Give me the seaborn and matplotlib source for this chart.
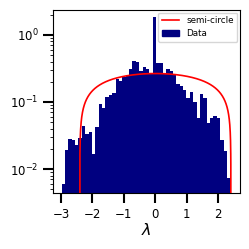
import numpy as np
import pandas as pd
import seaborn as sns
import matplotlib.pyplot as plt
from matplotlib.patches import Patch

# histogram of the eigenvalues (density), 50 bins
lam_min, lam_max = -2.98, 2.38
n_bins = 50
density = [
    0.0059, 0.0192, 0.0277, 0.0271, 0.0228, 0.0293, 0.0443, 0.0330, 0.0353, 0.0170,
    0.0428, 0.0933, 0.0800, 0.119, 0.128, 0.135, 0.223, 0.206, 0.232, 0.242,
    0.311, 0.409, 0.391, 0.285, 0.327, 0.309, 0.260, 1.84, 0.386, 0.376,
    0.266, 0.309, 0.290, 0.264, 0.184, 0.173, 0.151, 0.114, 0.143, 0.101,
    0.0571, 0.132, 0.114, 0.0491, 0.0571, 0.0618, 0.0571, 0.0271, 0.0189, 0.0073,
]

# radius of the semi-circle law
R = 2.4

edges = np.linspace(lam_min, lam_max, n_bins + 1)
centers = 0.5 * (edges[:-1] + edges[1:])
df = pd.DataFrame({'lam': centers, 'density': density})

xs = np.linspace(-R, R, 2001)
ys = 2 / (np.pi * R**2) * np.sqrt(np.clip(R**2 - xs**2, 0, None))

fig, ax = plt.subplots(figsize=(2.49, 2.49), dpi=100)
fig.subplots_adjust(left=0.213, right=0.964, top=0.96, bottom=0.225)

ax.plot(xs, ys, color='red', lw=1.2, zorder=3)
sns.histplot(data=df, x='lam', weights='density', bins=list(edges), stat='count',
             color='navy', alpha=1, linewidth=0, ax=ax)

ax.set_yscale('log')
ax.set_ylim(0.0044, 2.35)
ax.set_xlim(-3.25, 2.69)
ax.set_xticks([-3, -2, -1, 0, 1, 2])
ax.set_ylabel('')
ax.set_xlabel(r'$\lambda$', fontsize=11.5, labelpad=1)
ax.tick_params(which='major', length=7, width=1.5, labelsize=8.5)
ax.tick_params(which='minor', length=2, width=0.6)

handles = [plt.Line2D([], [], color='red', lw=1.2), Patch(color='navy')]
ax.legend(handles, ['semi-circle', 'Data'], loc='upper right', fontsize=6.3,
          borderaxespad=0.3)

plt.savefig('out.png', dpi=100)
